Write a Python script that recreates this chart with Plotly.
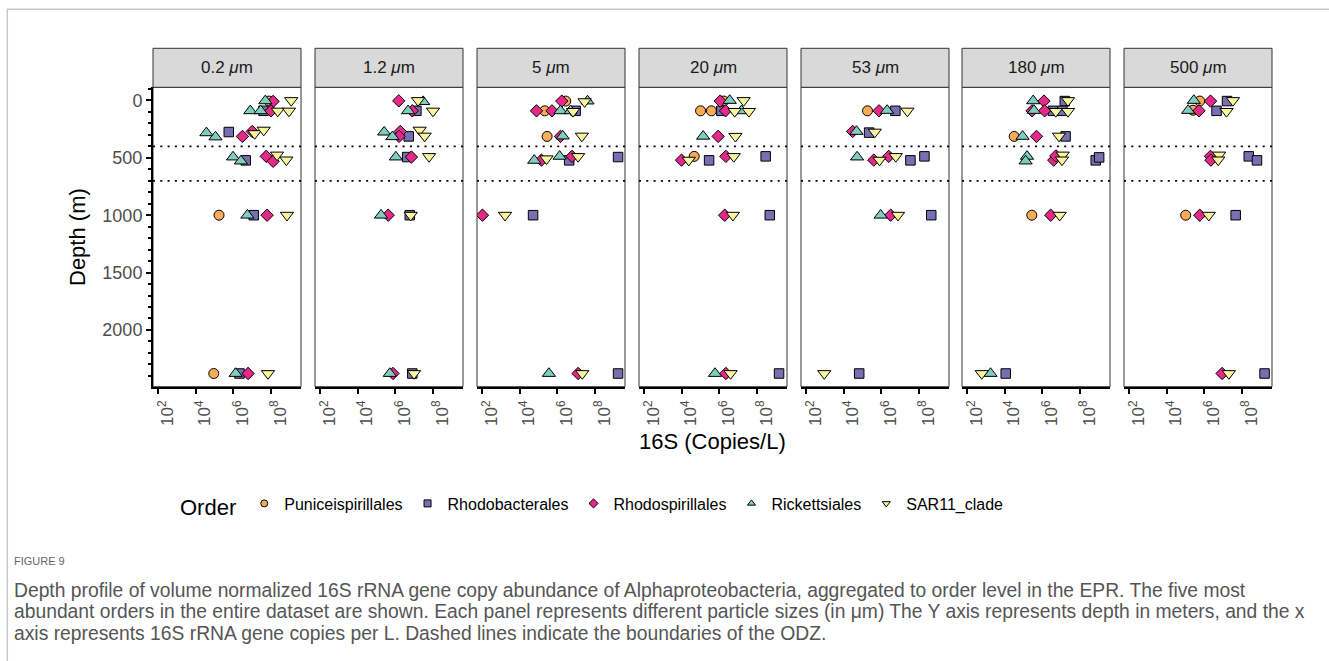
import plotly.graph_objects as go

W, H = 1329, 661

panels = ["0.2", "1.2", "5", "20", "53", "180", "500"]
orders = ["Puniceispirillales", "Rhodobacterales", "Rhodospirillales",
          "Rickettsiales", "SAR11_clade"]

x_tickvals = [1e2, 1e4, 1e6, 1e8]
x_ticktext = ["10<sup>2</sup>", "10<sup>4</sup>", "10<sup>6</sup>", "10<sup>8</sup>"]
odz_bounds = [400, 700]

# Puniceispirillales
puni_size = ["0.2", "0.2", "0.2", "5", "5", "5", "20", "20", "20", "20",
             "53", "180", "180", "500", "500", "500"]
puni_depth = [5, 1000, 2380, 5, 90, 313, 5, 90, 90, 487,
              90, 313, 1000, 5, 85, 1000]
puni_copies = [7.9e7, 1.7e5, 8.9e4, 2.75e6, 2.1e5, 2.8e5, 1.7e6, 9.8e4, 3.7e5, 4.5e4,
               1.8e5, 3.1e4, 2.7e5, 5.6e5, 2.45e5, 1.0e5]

# Rhodobacterales
rhodob_size = ["0.2"] * 5 + ["1.2"] * 5 + ["5"] * 5 + ["20"] * 5 + ["53"] * 6 + ["180"] * 7 + ["500"] * 6
rhodob_depth = [90, 275, 522, 1000, 2380,
                90, 313, 493, 1000, 2380,
                90, 522, 493, 1000, 2380,
                90, 522, 487, 1000, 2380,
                90, 280, 522, 487, 1000, 2380,
                5, 90, 90, 313, 522, 496, 2380,
                5, 90, 487, 522, 1000, 2380]
rhodob_copies = [4.0e7, 5.6e5, 4.5e6, 1.2e7, 2.1e6,
                 1.3e7, 5.1e6, 4.2e6, 5.8e6, 7.9e6,
                 9.3e6, 4.2e6, 1.7e9, 5.0e4, 1.7e9,
                 1.26e6, 2.8e5, 2.9e8, 4.8e8, 1.5e9,
                 5.5e6, 2.2e5, 3.5e7, 1.95e8, 4.5e8, 6.5e4,
                 1.55e7, 3.6e6, 1.15e7, 1.7e7, 6.9e8, 1.05e9, 1.1e4,
                 1.6e7, 4.4e6, 2.3e8, 6.3e8, 4.6e7, 1.6e9]

# Rhodospirillales
rhodosp_size = ["0.2"] * 8 + ["1.2"] * 7 + ["5"] * 8 + ["20"] * 7 + ["53"] * 5 + ["180"] * 7 + ["500"] * 6
rhodosp_depth = [8, 90, 313, 270, 487, 530, 1000, 2380,
                 3, 90, 270, 313, 493, 1000, 2380,
                 5, 90, 90, 313, 520, 487, 1000, 2380,
                 5, 90, 313, 520, 487, 1000, 2380,
                 90, 270, 520, 487, 1000,
                 5, 90, 90, 313, 520, 483, 1000,
                 5, 90, 487, 520, 1000, 2380]
rhodosp_copies = [1.3e8, 1.0e8, 3.0e6, 1.0e7, 5.6e7, 1.3e8, 6.2e7, 6.0e6,
                  1.5e6, 7.9e6, 1.8e6, 1.55e6, 7.1e6, 4.1e5, 7.4e5,
                  1.7e6, 7.6e4, 5.1e5, 1.45e6, 1.4e5, 6.0e6, 1.0e2, 1.26e7,
                  1.1e6, 2.1e6, 8.5e5, 9.5e3, 2.2e6, 1.9e6, 2.2e6,
                  7.4e5, 2.9e4, 3.9e5, 2.45e6, 3.1e6,
                  1.2e6, 2.8e5, 1.3e6, 4.8e5, 4.0e6, 5.2e6, 2.75e6,
                  2.1e6, 5.1e5, 2.1e6, 2.2e6, 5.6e5, 8.7e6]

# Rickettsiales
rick_size = ["0.2"] * 9 + ["1.2"] * 7 + ["5"] * 7 + ["20"] * 4 + ["53"] * 4 + ["180"] * 6 + ["500"] * 2
rick_depth = [3, 90, 90, 282, 318, 493, 528, 1000, 2380,
              10, 90, 276, 316, 493, 1000, 2380,
              90, 90, 5, 310, 487, 522, 2380,
              0, 90, 312, 2380,
              87, 270, 493, 1000,
              3, 87, 313, 487, 528, 2380,
              0, 87]
rick_copies = [5.0e7, 7.9e6, 2.8e7, 3.6e4, 1.1e5, 9.5e5, 2.5e6, 5.5e6, 1.3e6,
               3.0e7, 4.7e6, 2.5e5, 6.9e5, 1.05e6, 1.7e5, 5.0e5,
               1.45e6, 5.0e6, 4.0e7, 1.9e6, 1.3e6, 5.8e4, 3.5e5,
               3.5e6, 1.5e7, 1.35e5, 5.8e5,
               2.0e6, 4.7e4, 5.0e4, 9.1e5,
               3.2e5, 3.5e5, 8.7e4, 1.5e5, 1.26e5, 1.7e3,
               2.7e5, 1.35e5]

# SAR11_clade
sar11_size = ["0.2"] * 9 + ["1.2"] * 7 + ["5"] * 7 + ["20"] * 8 + ["53"] * 6 + ["180"] * 8 + ["500"] * 6
sar11_depth = [0, 92, 92, 288, 258, 475, 518, 1000, 2380,
               0, 92, 258, 310, 488, 1000, 2380,
               10, 95, 310, 508, 488, 1000, 2380,
               0, 95, 95, 312, 520, 488, 1000, 2380,
               92, 275, 520, 488, 1000, 2380,
               0, 95, 95, 310, 475, 518, 1000, 2380,
               0, 95, 475, 518, 1000, 2380]
sar11_copies = [1.2e9, 2.3e8, 9.1e8, 1.35e7, 4.1e7, 2.1e8, 6.6e8, 7.1e8, 6.9e7,
                1.6e7, 1.0e8, 1.95e7, 3.6e7, 6.2e7, 6.5e6, 9.8e6,
                2.8e7, 6.8e6, 2.0e7, 2.6e5, 1.26e7, 1.6e3, 2.1e7,
                1.95e7, 6.5e6, 3.7e7, 7.1e6, 2.3e4, 5.8e6, 5.2e6, 3.9e6,
                2.4e7, 4.4e5, 7.9e5, 5.8e6, 7.6e6, 8.9e2,
                2.3e7, 5.1e6, 2.3e7, 7.6e6, 1.2e7, 1.1e7, 8.3e6, 5.8e2,
                3.3e7, 1.5e7, 6.0e6, 5.4e6, 1.7e6, 2.0e7]

series = {
    "Puniceispirillales": (puni_size, puni_depth, puni_copies),
    "Rhodobacterales": (rhodob_size, rhodob_depth, rhodob_copies),
    "Rhodospirillales": (rhodosp_size, rhodosp_depth, rhodosp_copies),
    "Rickettsiales": (rick_size, rick_depth, rick_copies),
    "SAR11_clade": (sar11_size, sar11_depth, sar11_copies),
}

styles = {
    "Puniceispirillales": dict(symbol="circle", color="#F9AC58", size=10),
    "Rhodobacterales": dict(symbol="square", color="#7670B3", size=9.5),
    "Rhodospirillales": dict(symbol="diamond", color="#E5288A", size=9.5),
    "Rickettsiales": dict(symbol="triangle-up", color="#7FCDBE", size=11.5),
    "SAR11_clade": dict(symbol="triangle-down", color="#F8F59E", size=11.5),
}

# ---- panel geometry (pixels) ----
panel_left = [153, 315, 477, 639, 801, 962, 1124]
panel_w = 148
plot_top, plot_bottom = 87.3, 386.7
strip_top = 48.3
x_range = [1.71, 9.6]
y_range = [2495, -115]

FONT = "Liberation Sans, Arial, Helvetica, sans-serif"
TICK_GREY = "#4d4d4d"


def fx(px):
    return px / W


def fy(py):
    return 1 - py / H


fig = go.Figure()

for order in orders:
    sz, dp, cp = series[order]
    st = styles[order]
    for k, p in enumerate(panels):
        xs = [c for s, c in zip(sz, cp) if s == p]
        ys = [d for s, d in zip(sz, dp) if s == p]
        if not xs:
            continue
        sfx = "" if k == 0 else str(k + 1)
        fig.add_trace(go.Scatter(
            x=xs, y=ys, mode="markers",
            xaxis="x" + sfx, yaxis="y" + sfx,
            marker=dict(symbol=st["symbol"], color=st["color"], size=st["size"],
                        line=dict(color="black", width=1)),
            showlegend=False, hoverinfo="skip",
        ))

# legend entries
for order in orders:
    st = styles[order]
    fig.add_trace(go.Scatter(
        x=[None], y=[None], mode="markers", name=order,
        marker=dict(symbol=st["symbol"], color=st["color"], size=7,
                    line=dict(color="black", width=1)),
        showlegend=True, xaxis="x", yaxis="y",
    ))

shapes = []
annotations = []
layout_axes = {}
for k, p in enumerate(panels):
    sfx = "" if k == 0 else str(k + 1)
    x0 = fx(panel_left[k])
    x1 = fx(panel_left[k] + panel_w)
    layout_axes["xaxis" + sfx] = dict(
        type="log", range=x_range, domain=[x0, x1], anchor="y" + sfx,
        tickvals=x_tickvals, ticktext=x_ticktext, tickangle=-90,
        ticks="outside", ticklen=5, tickwidth=1.5, tickcolor="black",
        showline=True, linecolor="black", linewidth=2,
        showgrid=False, zeroline=False,
        tickfont=dict(family=FONT, size=17, color=TICK_GREY),
        ticklabelshift=9, fixedrange=True,
    )
    yax = dict(
        range=y_range, domain=[fy(plot_bottom), fy(plot_top)], anchor="x" + sfx,
        showgrid=False, zeroline=False, fixedrange=True,
    )
    if k == 0:
        yax.update(
            tick0=0, dtick=500, ticks="outside", ticklen=5, tickwidth=1.5,
            tickcolor="black", showline=True, linecolor="black", linewidth=2,
            tickfont=dict(family=FONT, size=18, color=TICK_GREY),
            minor=dict(dtick=100, ticks="outside", ticklen=3.5, tickwidth=1.5,
                       tickcolor="black"),
        )
    else:
        yax.update(showticklabels=False, ticks="", matches="y")
    layout_axes["yaxis" + sfx] = yax

    # panel frame
    shapes.append(dict(type="rect", xref=f"x{sfx} domain", yref=f"y{sfx} domain",
                       x0=0, x1=1, y0=0, y1=1, layer="below",
                       line=dict(color="#333333", width=1)))
    # ODZ boundaries
    for b in odz_bounds:
        shapes.append(dict(type="line", xref=f"x{sfx} domain", yref="y" + sfx,
                           x0=0, x1=1, y0=b, y1=b, layer="below",
                           line=dict(color="black", width=1.8, dash="2px,5.3px")))
    # facet strip
    shapes.append(dict(type="rect", xref=f"x{sfx} domain", yref="paper",
                       x0=0, x1=1, y0=fy(plot_top), y1=fy(strip_top),
                       fillcolor="#d9d9d9", line=dict(color="#333333", width=1)))
    annotations.append(dict(
        text=f"{p} <i>μ</i>m", xref=f"x{sfx} domain", yref="paper",
        x=0.5, y=fy((plot_top + strip_top) / 2), showarrow=False,
        xanchor="center", yanchor="middle",
        font=dict(family=FONT, size=17, color="#1a1a1a"),
    ))

# axis titles
annotations.append(dict(text="Depth (m)", xref="paper", yref="paper",
                        x=fx(78), y=fy((plot_top + plot_bottom) / 2), textangle=-90,
                        showarrow=False, xanchor="center", yanchor="middle",
                        font=dict(family=FONT, size=22, color="black")))
annotations.append(dict(text="16S (Copies/L)", xref="paper", yref="paper",
                        x=fx((panel_left[0] + panel_left[-1] + panel_w) / 2), y=fy(441),
                        showarrow=False, xanchor="center", yanchor="middle",
                        font=dict(family=FONT, size=22, color="black")))

# caption
CAP_FONT = "Liberation Sans, Arial, sans-serif"
annotations.append(dict(text="FIGURE 9", xref="paper", yref="paper",
                        x=fx(12), y=fy(561), showarrow=False,
                        xanchor="left", yanchor="middle",
                        font=dict(family=CAP_FONT, size=11, color="#666666")))
caption_lines = [
    "Depth profile of volume normalized 16S rRNA gene copy abundance of Alphaproteobacteria, "
    "aggregated to order level in the EPR. The five most",
    "abundant orders in the entire dataset are shown. Each panel represents different particle "
    "sizes (in μm) The Y axis represents depth in meters, and the x",
    "axis represents 16S rRNA gene copies per L. Dashed lines indicate the boundaries of the ODZ.",
]
for i, line in enumerate(caption_lines):
    annotations.append(dict(text=line, xref="paper", yref="paper",
                            x=fx(12), y=fy(590 + 21.5 * i), showarrow=False,
                            xanchor="left", yanchor="middle",
                            font=dict(family=CAP_FONT, size=19.3, color="#555555")))

# outer frame
shapes.append(dict(type="line", xref="paper", yref="paper", x0=fx(7), x1=1,
                   y0=fy(9.3), y1=fy(9.3), line=dict(color="#c8c8c8", width=1.5)))
shapes.append(dict(type="line", xref="paper", yref="paper", x0=fx(7.3), x1=fx(7.3),
                   y0=fy(9.3), y1=0, line=dict(color="#c8c8c8", width=1.5)))

fig.update_layout(
    width=W, height=H,
    margin=dict(l=0, r=0, t=0, b=0),
    paper_bgcolor="white", plot_bgcolor="white",
    shapes=shapes, annotations=annotations,
    legend=dict(
        orientation="h", x=fx(178), xanchor="left", y=fy(506), yanchor="middle",
        title=dict(text="Order", side="left",
                   font=dict(family=FONT, size=22, color="black")),
        font=dict(family=FONT, size=16, color="black"),
        bgcolor="rgba(0,0,0,0)", itemwidth=30,
    ),
    font=dict(family=FONT),
    **layout_axes,
)

fig.write_html("out.html")
